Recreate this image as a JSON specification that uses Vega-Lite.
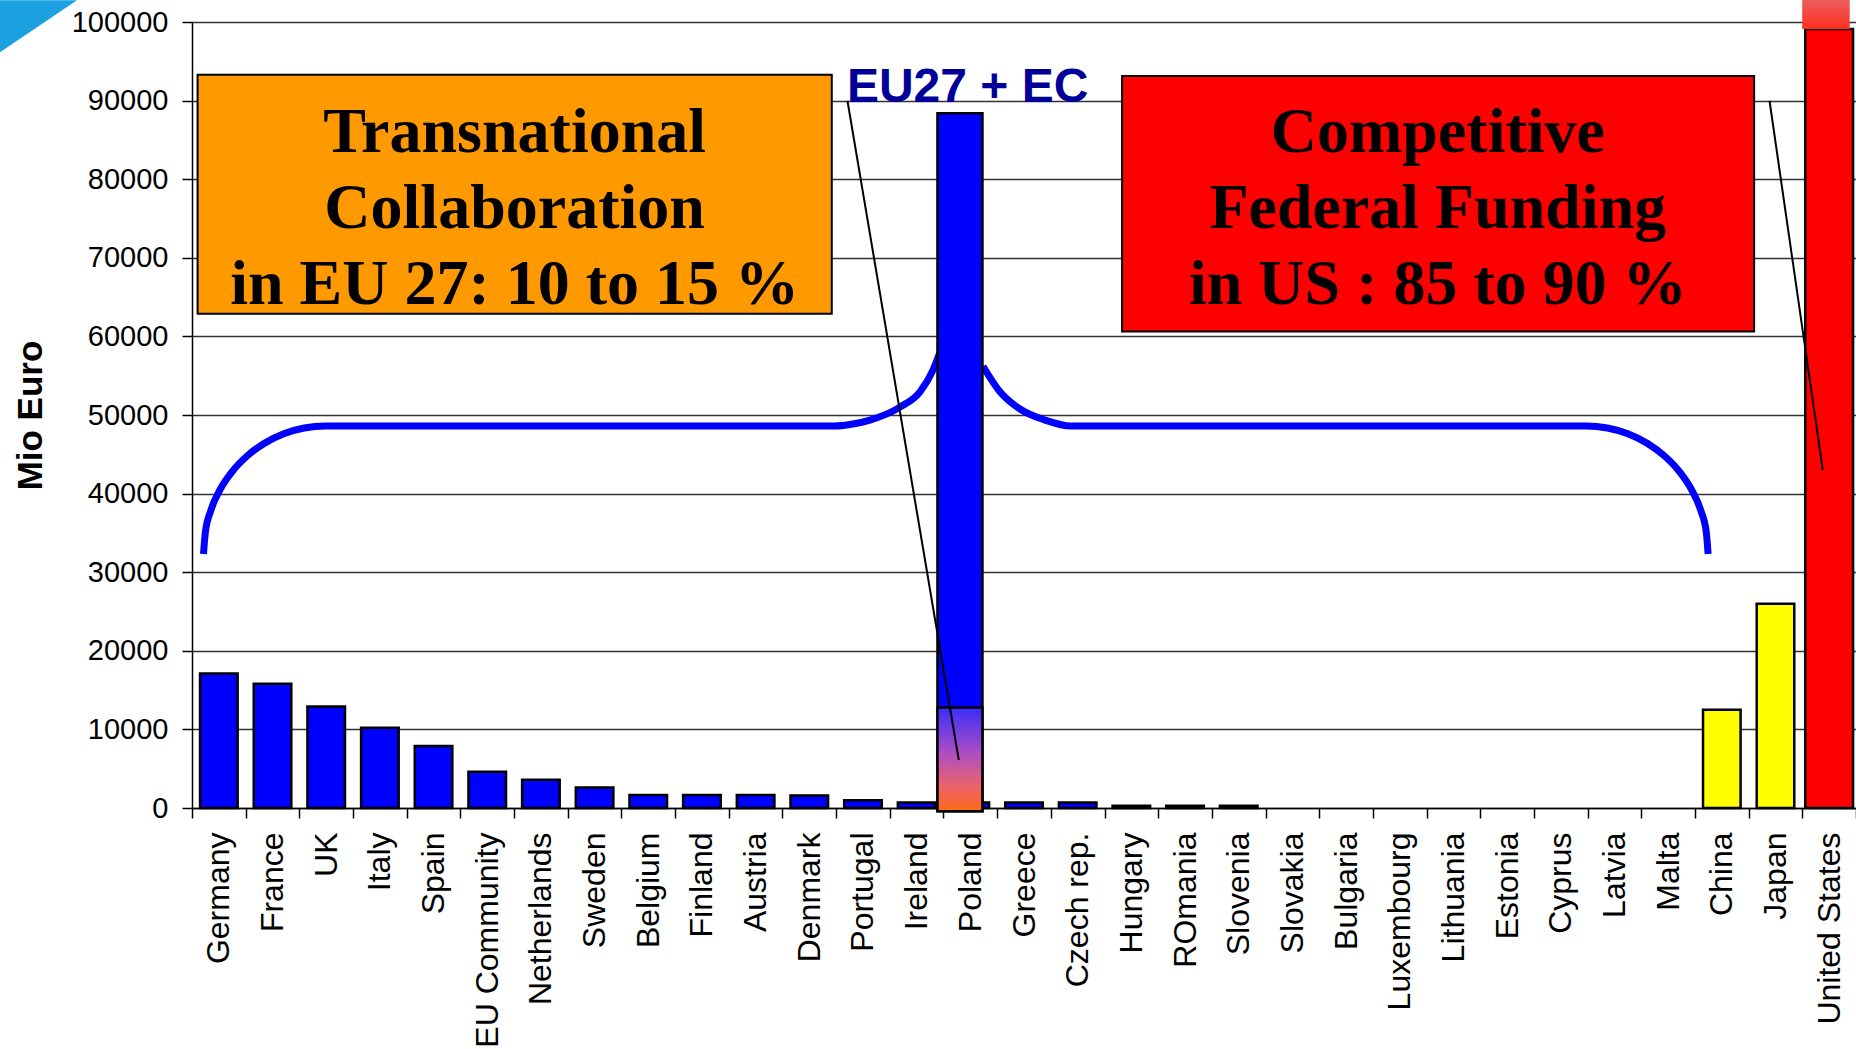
{
  "$schema": "https://vega.github.io/schema/vega-lite/v6.json",
  "width": 1664,
  "height": 786,
  "autosize": {"type": "none"},
  "padding": {"left": 192, "top": 22, "right": 0, "bottom": 241},
  "background": "white",
  "config": {"view": {"stroke": null}},
  "datasets": {
    "rd": [
      {"country": "Germany", "value": 17100, "region": "EU"},
      {"country": "France", "value": 15800, "region": "EU"},
      {"country": "UK", "value": 12900, "region": "EU"},
      {"country": "Italy", "value": 10200, "region": "EU"},
      {"country": "Spain", "value": 7900, "region": "EU"},
      {"country": "EU Community", "value": 4600, "region": "EU"},
      {"country": "Netherlands", "value": 3600, "region": "EU"},
      {"country": "Sweden", "value": 2600, "region": "EU"},
      {"country": "Belgium", "value": 1650, "region": "EU"},
      {"country": "Finland", "value": 1650, "region": "EU"},
      {"country": "Austria", "value": 1650, "region": "EU"},
      {"country": "Denmark", "value": 1600, "region": "EU"},
      {"country": "Portugal", "value": 1000, "region": "EU"},
      {"country": "Ireland", "value": 700, "region": "EU"},
      {"country": "Poland", "value": 700, "region": "EU"},
      {"country": "Greece", "value": 700, "region": "EU"},
      {"country": "Czech rep.", "value": 700, "region": "EU"},
      {"country": "Hungary", "value": 300, "region": "EU"},
      {"country": "ROmania", "value": 300, "region": "EU"},
      {"country": "Slovenia", "value": 300, "region": "EU"},
      {"country": "Slovakia", "value": 0, "region": "EU"},
      {"country": "Bulgaria", "value": 0, "region": "EU"},
      {"country": "Luxembourg", "value": 0, "region": "EU"},
      {"country": "Lithuania", "value": 0, "region": "EU"},
      {"country": "Estonia", "value": 0, "region": "EU"},
      {"country": "Cyprus", "value": 0, "region": "EU"},
      {"country": "Latvia", "value": 0, "region": "EU"},
      {"country": "Malta", "value": 0, "region": "EU"},
      {"country": "China", "value": 12500, "region": "Asia"},
      {"country": "Japan", "value": 26000, "region": "Asia"},
      {"country": "United States", "value": 99100, "region": "US"}
    ],
    "brace": [
      {"side": "left", "u": 0.214, "v": 32309},
      {"side": "left", "u": 0.250, "v": 35133},
      {"side": "left", "u": 0.352, "v": 37880},
      {"side": "left", "u": 0.518, "v": 40450},
      {"side": "left", "u": 0.745, "v": 42777},
      {"side": "left", "u": 1.026, "v": 44787},
      {"side": "left", "u": 1.351, "v": 46415},
      {"side": "left", "u": 1.710, "v": 47611},
      {"side": "left", "u": 2.092, "v": 48349},
      {"side": "left", "u": 2.487, "v": 48590},
      {"side": "left", "u": 11.969, "v": 48590},
      {"side": "left", "u": 12.258, "v": 48781},
      {"side": "left", "u": 12.630, "v": 49354},
      {"side": "left", "u": 13.189, "v": 51007},
      {"side": "left", "u": 13.562, "v": 52953},
      {"side": "left", "u": 13.804, "v": 55714},
      {"side": "left", "u": 13.934, "v": 58003},
      {"side": "right", "u": 14.736, "v": 56200},
      {"side": "right", "u": 15.052, "v": 52953},
      {"side": "right", "u": 15.425, "v": 50760},
      {"side": "right", "u": 15.890, "v": 49354},
      {"side": "right", "u": 16.375, "v": 48590},
      {"side": "right", "u": 25.972, "v": 48590},
      {"side": "right", "u": 26.367, "v": 48349},
      {"side": "right", "u": 26.749, "v": 47611},
      {"side": "right", "u": 27.109, "v": 46415},
      {"side": "right", "u": 27.433, "v": 44787},
      {"side": "right", "u": 27.714, "v": 42777},
      {"side": "right", "u": 27.941, "v": 40450},
      {"side": "right", "u": 28.107, "v": 37880},
      {"side": "right", "u": 28.210, "v": 35133},
      {"side": "right", "u": 28.245, "v": 32309}
    ],
    "one": [{}]
  },
  "layer": [
    {
      "data": {"name": "rd"},
      "transform": [{"filter": "datum.country !== 'United States' && datum.value > 0"}],
      "mark": {"type": "bar", "width": {"band": 0.7}, "stroke": "black", "strokeWidth": 2.5},
      "encoding": {
        "x": {
          "field": "country", "type": "nominal", "sort": null,
          "scale": {"domain": ["Germany","France","UK","Italy","Spain","EU Community","Netherlands","Sweden","Belgium","Finland","Austria","Denmark","Portugal","Ireland","Poland","Greece","Czech rep.","Hungary","ROmania","Slovenia","Slovakia","Bulgaria","Luxembourg","Lithuania","Estonia","Cyprus","Latvia","Malta","China","Japan","United States"], "paddingInner": 0, "paddingOuter": 0},
          "axis": {
            "title": null, "labelAngle": -90, "labelFont": "Liberation Sans", "labelFontSize": 32,
            "labelColor": "black", "labelPadding": 14, "labelLimit": 400, "labelOverlap": false,
            "tickBand": "extent", "tickSize": 10, "tickColor": "black", "tickWidth": 1.5,
            "domainColor": "black", "domainWidth": 1.5, "grid": false
          }
        },
        "y": {
          "field": "value", "type": "quantitative",
          "scale": {"domain": [0, 100000], "nice": false},
          "axis": {
            "title": "Mio Euro", "titleFont": "Liberation Sans", "titleFontSize": 35, "titleFontWeight": "bold",
            "titleColor": "black", "titleAngle": -90, "titleX": -162, "titleY": 393,
            "titleAlign": "center", "titleBaseline": "middle",
            "values": [0,10000,20000,30000,40000,50000,60000,70000,80000,90000,100000],
            "format": "d", "labelFont": "Liberation Sans", "labelFontSize": 29, "labelColor": "black",
            "labelPadding": 14, "tickSize": 10, "tickColor": "black", "tickWidth": 1.5,
            "domainColor": "black", "domainWidth": 1.5,
            "grid": true, "gridColor": "#333333", "gridWidth": 1.3
          }
        },
        "color": {
          "field": "region", "type": "nominal",
          "scale": {"domain": ["EU", "Asia", "US"], "range": ["#0000FF", "#FFFF00", "#FF0000"]},
          "legend": null
        }
      }
    },
    {
      "data": {"name": "rd"},
      "transform": [{"filter": "datum.country === 'United States'"}],
      "mark": {"type": "bar", "width": {"band": 0.89}, "stroke": "black", "strokeWidth": 2.5, "color": "#FF0000"},
      "encoding": {
        "x": {"field": "country", "type": "nominal", "sort": null,
          "scale": {"domain": ["Germany","France","UK","Italy","Spain","EU Community","Netherlands","Sweden","Belgium","Finland","Austria","Denmark","Portugal","Ireland","Poland","Greece","Czech rep.","Hungary","ROmania","Slovenia","Slovakia","Bulgaria","Luxembourg","Lithuania","Estonia","Cyprus","Latvia","Malta","China","Japan","United States"], "paddingInner": 0, "paddingOuter": 0},
          "axis": null},
        "y": {"field": "value", "type": "quantitative"}
      }
    },
    {
      "data": {"name": "brace"},
      "mark": {"type": "line", "interpolate": "monotone", "color": "#0000FF", "strokeWidth": 7, "strokeCap": "butt", "strokeJoin": "round"},
      "encoding": {
        "x": {"field": "u", "type": "quantitative", "scale": {"domain": [0, 31], "nice": false, "zero": false}, "axis": null},
        "y": {"field": "v", "type": "quantitative"},
        "detail": {"field": "side"}
      }
    },
    {
      "data": {"values": [
        {"u": -3.577, "top": 102778, "bottom": 96163},
        {"u": -2.142, "top": 102778, "bottom": 102778}
      ]},
      "mark": {"type": "area", "color": "#1BA1E2"},
      "encoding": {
        "x": {"field": "u", "type": "quantitative", "scale": {"domain": [0, 31], "nice": false, "zero": false}, "axis": null},
        "y": {"field": "top", "type": "quantitative"},
        "y2": {"field": "bottom"}
      }
    },
    {
      "data": {"name": "one"},
      "mark": {"type": "rect", "fill": "#0000FF", "stroke": "black", "strokeWidth": 2.5},
      "encoding": {
        "x": {"datum": 13.888, "type": "quantitative", "scale": {"domain": [0, 31], "nice": false, "zero": false}, "axis": null},
        "x2": {"datum": 14.726},
        "y": {"datum": 88400, "type": "quantitative"},
        "y2": {"datum": -400}
      }
    },
    {
      "data": {"name": "one"},
      "mark": {"type": "rect", "stroke": "black", "strokeWidth": 2.5,
        "fill": {"gradient": "linear", "x1": 0, "y1": 0, "x2": 0, "y2": 1,
          "stops": [{"offset": 0, "color": "#3a2dfa"}, {"offset": 0.45, "color": "#b04fc2"}, {"offset": 0.75, "color": "#e8626e"}, {"offset": 1, "color": "#ff6a1a"}]}},
      "encoding": {
        "x": {"datum": 13.888, "type": "quantitative", "scale": {"domain": [0, 31], "nice": false, "zero": false}, "axis": null},
        "x2": {"datum": 14.726},
        "y": {"datum": 12800, "type": "quantitative"},
        "y2": {"datum": -400}
      }
    },
    {
      "data": {"name": "one"},
      "mark": {"type": "rect",
        "fill": {"gradient": "linear", "x1": 0, "y1": 0, "x2": 0, "y2": 1,
          "stops": [{"offset": 0, "color": "#e96060"}, {"offset": 1, "color": "#ff3020"}]}},
      "encoding": {
        "x": {"datum": 29.998, "type": "quantitative", "scale": {"domain": [0, 31], "nice": false, "zero": false}, "axis": null},
        "x2": {"datum": 30.883},
        "y": {"datum": 103000, "type": "quantitative"},
        "y2": {"datum": 99100}
      }
    },
    {
      "data": {"name": "one"},
      "mark": {"type": "rect", "fill": "#FF9900", "stroke": "black", "strokeWidth": 2},
      "encoding": {
        "x": {"datum": 0.104, "type": "quantitative", "scale": {"domain": [0, 31], "nice": false, "zero": false}, "axis": null},
        "x2": {"datum": 11.919},
        "y": {"datum": 93288, "type": "quantitative"},
        "y2": {"datum": 62875}
      }
    },
    {
      "data": {"name": "one"},
      "mark": {"type": "rect", "fill": "#FF0000", "stroke": "black", "strokeWidth": 2},
      "encoding": {
        "x": {"datum": 17.327, "type": "quantitative", "scale": {"domain": [0, 31], "nice": false, "zero": false}, "axis": null},
        "x2": {"datum": 29.102},
        "y": {"datum": 93136, "type": "quantitative"},
        "y2": {"datum": 60624}
      }
    },
    {
      "data": {"name": "one"},
      "mark": {"type": "rule", "color": "black", "strokeWidth": 2},
      "encoding": {
        "x": {"datum": 12.211, "type": "quantitative", "scale": {"domain": [0, 31], "nice": false, "zero": false}, "axis": null},
        "x2": {"datum": 14.285},
        "y": {"datum": 89981, "type": "quantitative"},
        "y2": {"datum": 6106}
      }
    },
    {
      "data": {"name": "one"},
      "mark": {"type": "rule", "color": "black", "strokeWidth": 2},
      "encoding": {
        "x": {"datum": 29.389, "type": "quantitative", "scale": {"domain": [0, 31], "nice": false, "zero": false}, "axis": null},
        "x2": {"datum": 30.382},
        "y": {"datum": 89981, "type": "quantitative"},
        "y2": {"datum": 42994}
      }
    },
    {
      "data": {"name": "one"},
      "mark": {"type": "text", "text": ["Transnational", "Collaboration", "in EU 27: 10 to 15 %"],
        "font": "Liberation Serif", "fontWeight": "bold", "fontSize": 64, "lineHeight": 76,
        "align": "center", "baseline": "alphabetic", "color": "black"},
      "encoding": {
        "x": {"datum": 6.01, "type": "quantitative", "scale": {"domain": [0, 31], "nice": false, "zero": false}, "axis": null},
        "y": {"datum": 83507, "type": "quantitative"}
      }
    },
    {
      "data": {"name": "one"},
      "mark": {"type": "text", "text": ["Competitive", "Federal Funding", "in US : 85 to 90 %"],
        "font": "Liberation Serif", "fontWeight": "bold", "fontSize": 64, "lineHeight": 76,
        "align": "center", "baseline": "alphabetic", "color": "black"},
      "encoding": {
        "x": {"datum": 23.21, "type": "quantitative", "scale": {"domain": [0, 31], "nice": false, "zero": false}, "axis": null},
        "y": {"datum": 83507, "type": "quantitative"}
      }
    },
    {
      "data": {"name": "one"},
      "mark": {"type": "text", "text": "EU27 + EC",
        "font": "Liberation Sans", "fontWeight": "bold", "fontSize": 48,
        "align": "center", "baseline": "alphabetic", "color": "#000099"},
      "encoding": {
        "x": {"datum": 14.45, "type": "quantitative", "scale": {"domain": [0, 31], "nice": false, "zero": false}, "axis": null},
        "y": {"datum": 89829, "type": "quantitative"}
      }
    }
  ],
  "resolve": {"scale": {"x": "independent"}, "axis": {"x": "independent"}}
}
